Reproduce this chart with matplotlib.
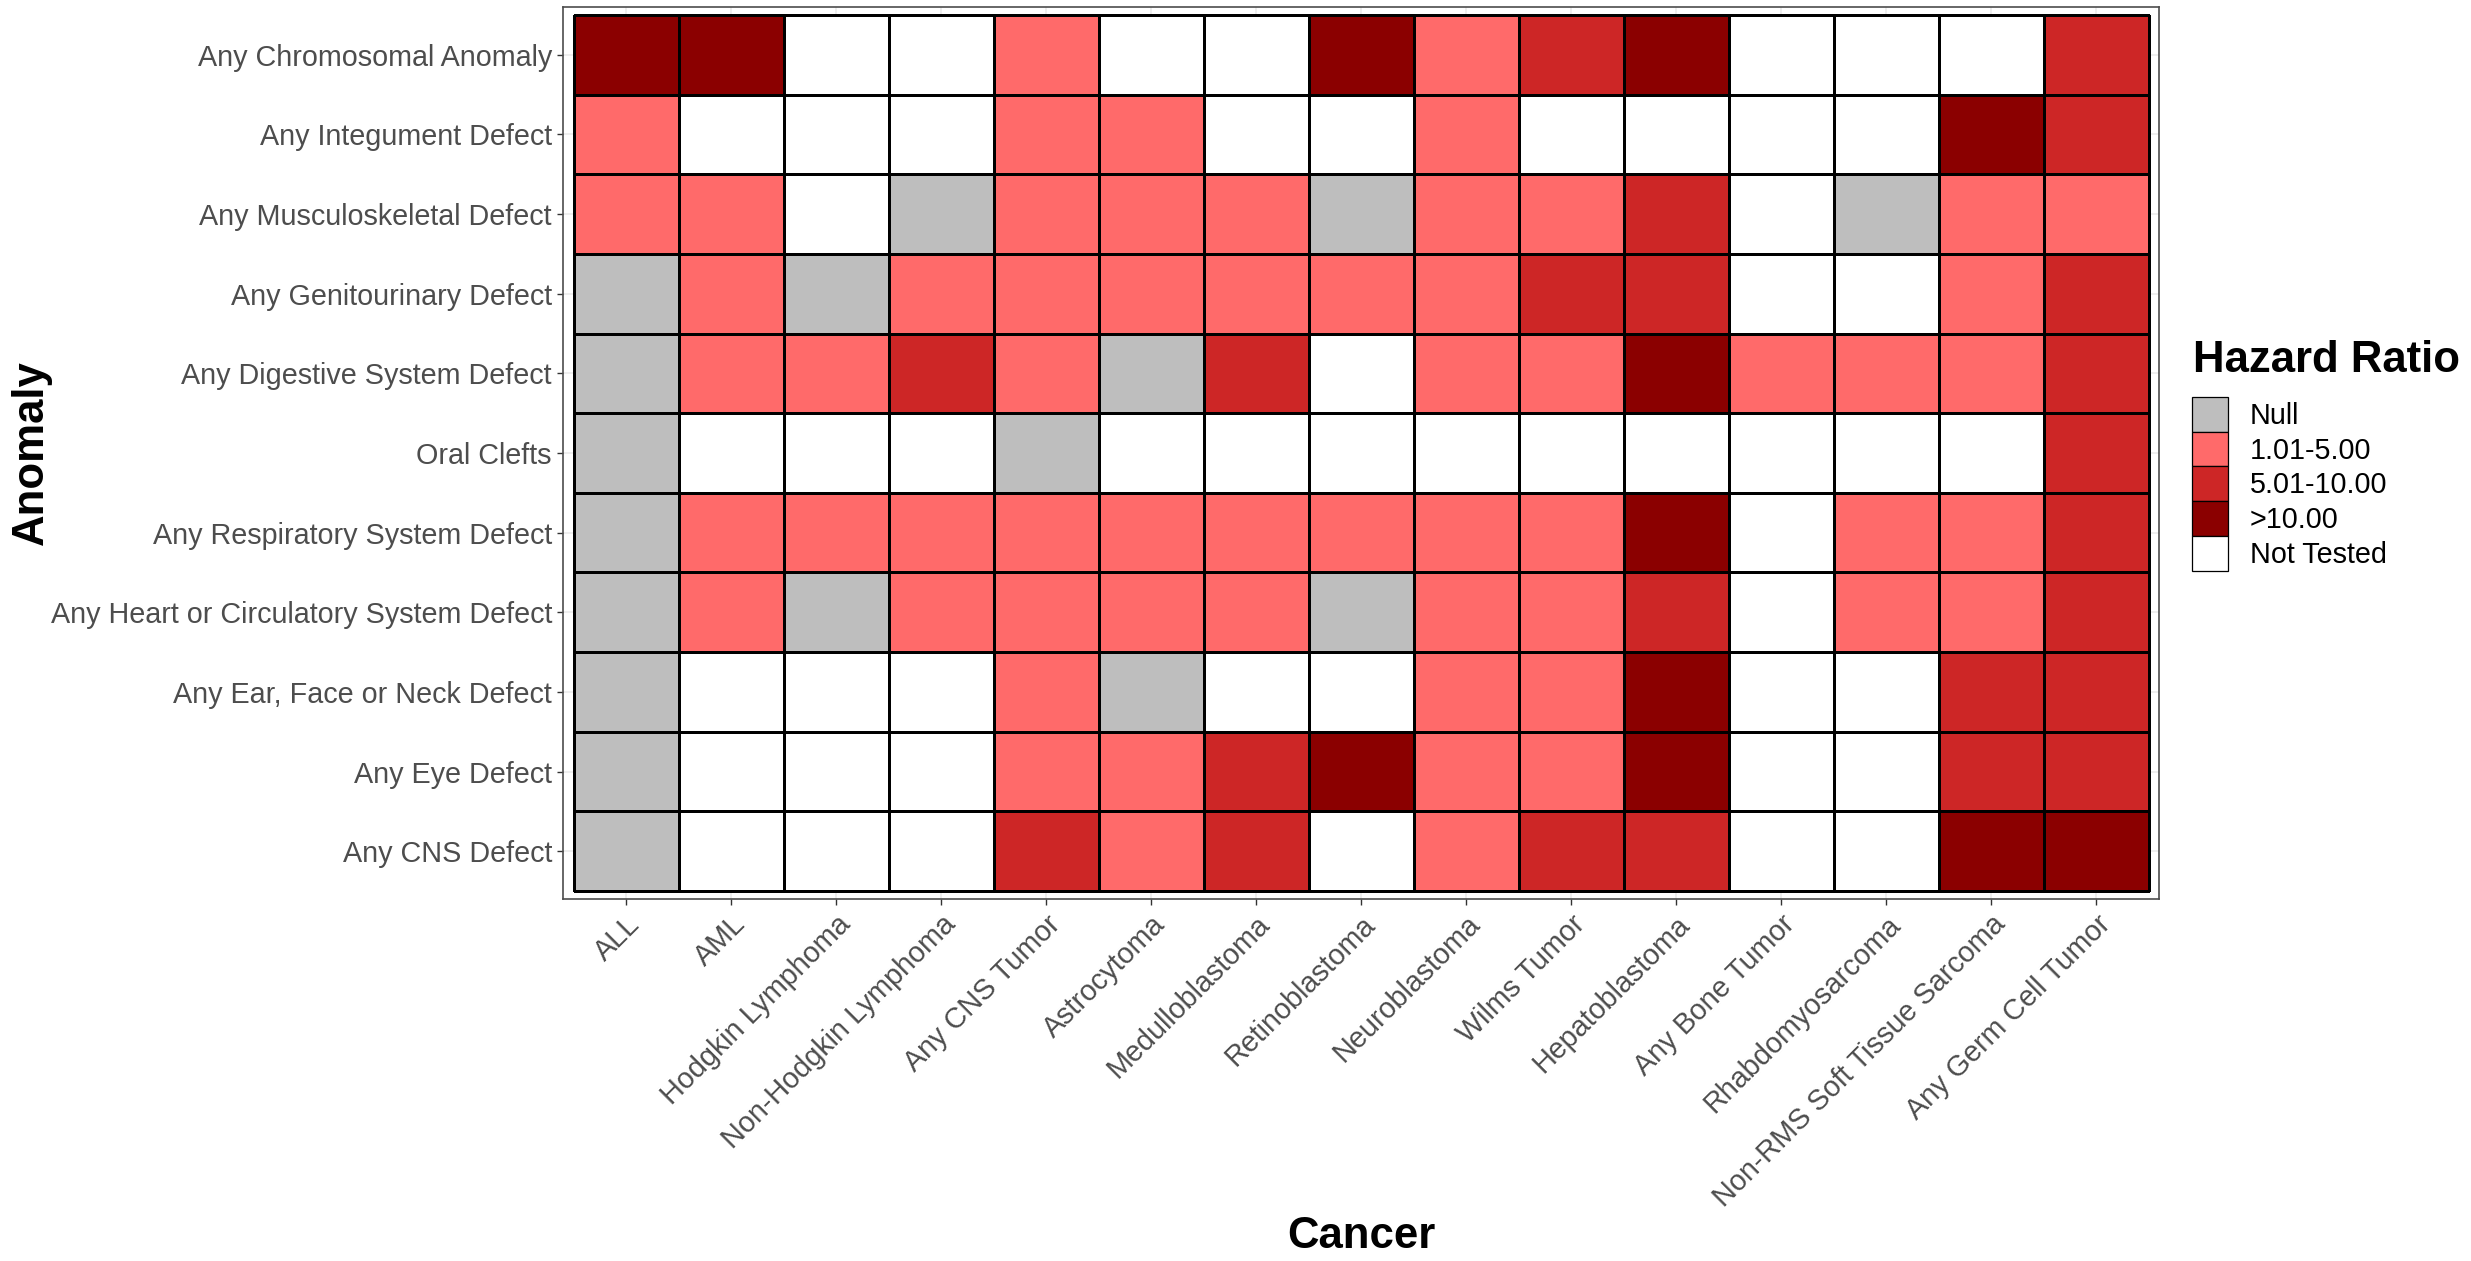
import numpy as np
import matplotlib
matplotlib.use('Agg')
import matplotlib.pyplot as plt
from matplotlib.colors import ListedColormap, BoundaryNorm
from matplotlib.patches import Patch

plt.rcParams['font.family'] = ['Liberation Sans', 'DejaVu Sans']

cancers = ['ALL', 'AML', 'Hodgkin Lymphoma', 'Non-Hodgkin Lymphoma', 'Any CNS Tumor',
           'Astrocytoma', 'Medulloblastoma', 'Retinoblastoma', 'Neuroblastoma',
           'Wilms Tumor', 'Hepatoblastoma', 'Any Bone Tumor', 'Rhabdomyosarcoma',
           'Non-RMS Soft Tissue Sarcoma', 'Any Germ Cell Tumor']

# top to bottom
anomalies = ['Any Chromosomal Anomaly', 'Any Integument Defect', 'Any Musculoskeletal Defect',
             'Any Genitourinary Defect', 'Any Digestive System Defect', 'Oral Clefts',
             'Any Respiratory System Defect', 'Any Heart or Circulatory System Defect',
             'Any Ear, Face or Neck Defect', 'Any Eye Defect', 'Any CNS Defect']

# N = Null, L = 1.01-5.00, M = 5.01-10.00, H = >10.00, W = Not Tested
hr_codes = [
    'HHWWLWWHLMHWWWM',
    'LWWWLLWWLWWWWHM',
    'LLWNLLLNLLMWNLL',
    'NLNLLLLLLMMWWLM',
    'NLLMLNMWLLHLLLM',
    'NWWWNWWWWWWWWWM',
    'NLLLLLLLLLHWLLM',
    'NLNLLLLNLLMWLLM',
    'NWWWLNWWLLHWWMM',
    'NWWWLLMHLLHWWMM',
    'NWWWMLMWLMMWWHH',
]

levels = ['N', 'L', 'M', 'H', 'W']
level_labels = ['Null', '1.01-5.00', '5.01-10.00', '>10.00', 'Not Tested']
level_colors = ['#BEBEBE', '#FF6A6A', '#CD2626', '#8B0000', '#FFFFFF']

z = np.array([[levels.index(c) for c in row] for row in hr_codes])

W, H = 2471, 1261
fig = plt.figure(figsize=(W / 100, H / 100), dpi=100)
ax = fig.add_axes([563 / W, 1 - 899 / H, (2159 - 563) / W, (899 - 7) / H])

cmap = ListedColormap(level_colors)
norm = BoundaryNorm(np.arange(-0.5, len(levels)), cmap.N)
xe = np.arange(len(cancers) + 1) - 0.5
ye = np.arange(len(anomalies) + 1) - 0.5
ax.pcolormesh(xe, ye, z, cmap=cmap, norm=norm, edgecolors='black', linewidth=0.8, zorder=2)

ax.set_xlim(-0.6, len(cancers) - 0.4)
ax.set_ylim(len(anomalies) - 0.4, -0.6)

ax.set_xticks(range(len(cancers)))
ax.set_xticklabels(cancers, rotation=45, ha='right', va='top', rotation_mode='anchor')
ax.set_yticks(range(len(anomalies)))
ax.set_yticklabels(anomalies)
ax.tick_params(axis='both', labelsize=20.7, labelcolor='#4D4D4D', color='#333333',
               length=4, width=1)
ax.tick_params(axis='x', pad=4)
ax.tick_params(axis='y', pad=4)

ax.set_axisbelow(True)
ax.grid(True, color='#EBEBEB', linewidth=1.2, zorder=0)
for s in ax.spines.values():
    s.set_color('#4D4D4D')
    s.set_linewidth(1.2)

ax.set_xlabel('Cancer', fontsize=31.5, fontweight='bold', va='center')
ax.xaxis.set_label_coords(0.5, -(1236 - 899) / 892)
ax.set_ylabel('Anomaly', fontsize=31.5, fontweight='bold', va='center')
ax.yaxis.set_label_coords((31 - 563) / 1596, 0.5)

handles = [Patch(facecolor=c, edgecolor='black', linewidth=0.9) for c in level_colors]
fig.legend(handles, level_labels, loc='upper left',
           bbox_to_anchor=(2192 / W, 1 - 397 / H), frameon=False,
           fontsize=20.7, handlelength=1.25, handleheight=1.48, labelspacing=0,
           handletextpad=0.75, borderpad=0, borderaxespad=0)
fig.text(2193 / W, 1 - 372 / H, 'Hazard Ratio', fontsize=31.5, fontweight='bold',
         ha='left', va='baseline')

fig.savefig('out.png', dpi=100)
